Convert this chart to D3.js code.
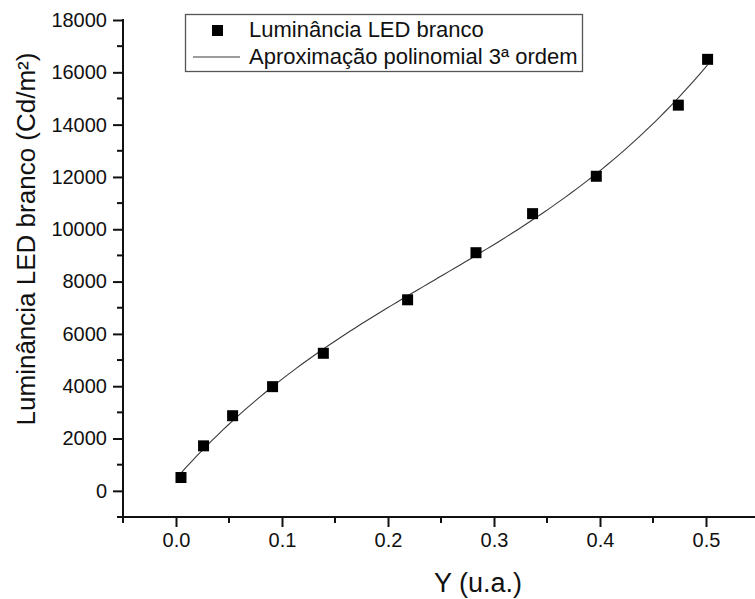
<!DOCTYPE html>
<html>
<head>
<meta charset="utf-8">
<script src="https://cdn.jsdelivr.net/npm/d3@7"></script>
<style>
  body { margin: 0; background: #fff; }
  text { font-family: Arial, "Liberation Sans", sans-serif; fill: #111; }
</style>
</head>
<body>
<script>
// measured points (Y in u.a., luminance in Cd/m2)
let yValues = [0.0047, 0.026, 0.0534, 0.0911, 0.139, 0.2185, 0.283, 0.3364, 0.3965, 0.4739, 0.5015];
let luminance = [509, 1720, 2872, 3983, 5259, 7304, 9104, 10597, 12026, 14745, 16496];

let xMajorTicks = [0, 0.1, 0.2, 0.3, 0.4, 0.5];
let yMajorTicks = [0, 2000, 4000, 6000, 8000, 10000, 12000, 14000, 16000, 18000];
let legendLabels = ["Luminância LED branco", "Aproximação polinomial 3ª ordem"];

let svgWidth = 755, svgHeight = 599;

let svg = d3.select("body").append("svg")
  .attr("width", svgWidth)
  .attr("height", svgHeight);

let x = d3.scaleLinear().domain([-0.05, 0.55]).range([123, 759]);
let y = d3.scaleLinear().domain([-1000, 18000]).range([517, 20]);

// minor ticks every half step
let xMinor = d3.range(-0.05, 0.56, 0.1).map(v => +v.toFixed(2));
let yMinor = d3.range(-1000, 18000, 2000);

// 3rd order least squares fit of the measured points (what the original plot shows)
function cubicFit(xs, ys) {
  let n = 4;
  let A = [], b = [];
  for (let r = 0; r < n; r++) {
    A.push([]);
    for (let c = 0; c < n; c++) A[r].push(d3.sum(xs, v => Math.pow(v, r + c)));
    b.push(d3.sum(xs, (v, i) => ys[i] * Math.pow(v, r)));
  }
  for (let i = 0; i < n; i++) {
    let p = i;
    for (let k = i + 1; k < n; k++) if (Math.abs(A[k][i]) > Math.abs(A[p][i])) p = k;
    [A[i], A[p]] = [A[p], A[i]]; [b[i], b[p]] = [b[p], b[i]];
    for (let k = i + 1; k < n; k++) {
      let f = A[k][i] / A[i][i];
      for (let c = i; c < n; c++) A[k][c] -= f * A[i][c];
      b[k] -= f * b[i];
    }
  }
  let coef = new Array(n).fill(0);
  for (let i = n - 1; i >= 0; i--) {
    let s = b[i];
    for (let c = i + 1; c < n; c++) s -= A[i][c] * coef[c];
    coef[i] = s / A[i][i];
  }
  return coef;
}
let coef = cubicFit(yValues, luminance);
let fitX = d3.range(0, 101).map(i => yValues[0] + (yValues[yValues.length - 1] - yValues[0]) * i / 100);
let fitLine = fitX.map(v => [v, coef[0] + coef[1] * v + coef[2] * v * v + coef[3] * v * v * v]);

// fit curve
svg.append("path")
  .attr("d", d3.line().x(d => x(d[0])).y(d => y(d[1]))(fitLine))
  .attr("fill", "none")
  .attr("stroke", "#3a3a3a")
  .attr("stroke-width", 1.1);

// data points
svg.selectAll("rect.pt")
  .data(yValues)
  .enter()
  .append("rect")
  .attr("class", "pt")
  .attr("x", (d, i) => x(d) - 5.5)
  .attr("y", (d, i) => y(luminance[i]) - 5.5)
  .attr("width", 11)
  .attr("height", 11)
  .attr("fill", "#000");

// axes
let bottomAxis = d3.axisBottom(x).tickValues(xMajorTicks).tickFormat(d3.format(".1f")).tickSize(10).tickPadding(6);
let leftAxis = d3.axisLeft(y).tickValues(yMajorTicks).tickFormat(d3.format("d")).tickSize(10).tickPadding(6);

let gx = svg.append("g").attr("transform", "translate(0,517)").call(bottomAxis);
let gy = svg.append("g").attr("transform", "translate(123,0)").call(leftAxis);

[gx, gy].forEach(g => {
  g.select(".domain").remove();
  g.selectAll("line").attr("stroke", "#111").attr("stroke-width", 2);
  g.selectAll("text").attr("font-size", 20).style("font-family", "Arial, 'Liberation Sans', sans-serif").attr("fill", "#111");
});

svg.append("line").attr("x1", 120).attr("x2", 759).attr("y1", 517).attr("y2", 517)
  .attr("stroke", "#111").attr("stroke-width", 2);
svg.append("line").attr("x1", 123).attr("x2", 123).attr("y1", 19).attr("y2", 520)
  .attr("stroke", "#111").attr("stroke-width", 2);

svg.selectAll("line.xminor").data(xMinor).enter().append("line")
  .attr("x1", d => x(d)).attr("x2", d => x(d)).attr("y1", 517).attr("y2", 523)
  .attr("stroke", "#111").attr("stroke-width", 2);
svg.selectAll("line.yminor").data(yMinor).enter().append("line")
  .attr("x1", 117).attr("x2", 123).attr("y1", d => y(d)).attr("y2", d => y(d))
  .attr("stroke", "#111").attr("stroke-width", 2);

// axis titles
svg.append("text")
  .attr("x", 478).attr("y", 592)
  .attr("text-anchor", "middle")
  .attr("font-size", 27)
  .text("Y (u.a.)");

svg.append("text")
  .attr("transform", "translate(35,239)rotate(-90)")
  .attr("text-anchor", "middle")
  .attr("font-size", 26)
  .text("Luminância LED branco (Cd/m²)");

// legend
let legend = svg.append("g");
legend.append("rect")
  .attr("x", 185.5).attr("y", 14.5).attr("width", 397).attr("height", 57)
  .attr("fill", "#fff").attr("stroke", "#555").attr("stroke-width", 1.3);
legend.append("rect")
  .attr("x", 212).attr("y", 25).attr("width", 11).attr("height", 11).attr("fill", "#000");
legend.append("line")
  .attr("x1", 193).attr("x2", 240).attr("y1", 57).attr("y2", 57)
  .attr("stroke", "#3a3a3a").attr("stroke-width", 1.1);
legend.selectAll("text.leg").data(legendLabels).enter().append("text")
  .attr("class", "leg")
  .attr("x", 249)
  .attr("y", (d, i) => 37 + i * 27)
  .attr("font-size", 22)
  .text(d => d);
</script>
</body>
</html>
